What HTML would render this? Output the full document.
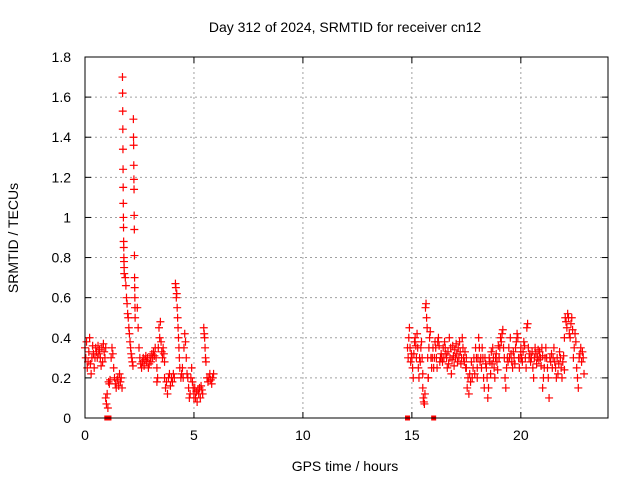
<!DOCTYPE html>
<html><head><meta charset="utf-8"><style>
html,body{margin:0;padding:0;background:#fff}
svg{display:block;font-family:"Liberation Sans",sans-serif}
</style></head><body>
<svg id="chart" width="640" height="480">
<text x="345" y="32" font-size="14" text-anchor="middle">Day 312 of 2024, SRMTID for receiver cn12</text>
<text x="345" y="471" font-size="14" text-anchor="middle">GPS time / hours</text>
<text transform="translate(18,238) rotate(-90)" font-size="14" text-anchor="middle">SRMTID / TECUs</text>
<g id="grid"></g>
<g id="ticks"></g>
<g id="marks"></g>
<rect x="85" y="57" width="523" height="361" fill="none" stroke="#000" stroke-width="1"/>
</svg>
<script>
const xTicks=[0,5,10,15,20];
const yTicks=[0,0.2,0.4,0.6,0.8,1,1.2,1.4,1.6,1.8];
const yTickLabels=["0","0.2","0.4","0.6","0.8","1","1.2","1.4","1.6","1.8"];
// each group: start hour, end hour, values sampled uniformly between
const groupStarts=[0.0,0.95,1.2,1.72,1.85,2.22,2.4,3.3,3.65,4.15,4.4,5.0,5.45,5.6,
14.8,15.5,15.75,17.5,18.0,19.0,20.0,21.0,22.0];
const groupEnds=[0.95,1.15,1.7,1.8,2.2,2.3,3.3,3.65,4.1,4.35,5.0,5.4,5.55,5.9,
15.5,15.75,17.5,18.0,19.0,20.0,21.0,22.0,22.9];
const groupValues=[
[0.35,0.3,0.38,0.25,0.28,0.33,0.4,0.27,0.22,0.3,0.36,0.32,0.25,0.3,0.35,0.33,0.3,0.36,0.32,0.34,0.3,0.26,0.35,0.28,0.37,0.33,0.3,0.35],
[0.1,0.07,0.12,0.05,0.18,0.17,0.19],
[0.3,0.35,0.32,0.25,0.2,0.17,0.15,0.19,0.2,0.16,0.22,0.18,0.2,0.15],
[1.7,1.62,1.53,1.44,1.34,1.24,1.15,1.07,1.0,0.95,0.88,0.85,0.8,0.78,0.75,0.72],
[0.7,0.66,0.6,0.57,0.52,0.5,0.45,0.42,0.38,0.35,0.32,0.3,0.28,0.26],
[1.49,1.4,1.36,1.26,1.19,1.14,1.01,0.94,0.81,0.7,0.65,0.6,0.55,0.5],
[0.55,0.45,0.35,0.3,0.27,0.25,0.28,0.3,0.26,0.29,0.31,0.28,0.3,0.25,0.27,0.3,0.28,0.32,0.3,0.33,0.31,0.35,0.3,0.25],
[0.18,0.2,0.35,0.45,0.4,0.48,0.38,0.33,0.3,0.35,0.32,0.28],
[0.2,0.15,0.18,0.12,0.2,0.22,0.16,0.2,0.18,0.22,0.2],
[0.67,0.65,0.6,0.62,0.55,0.5,0.45,0.4,0.35,0.3,0.25],
[0.2,0.22,0.25,0.2,0.35,0.42,0.38,0.3,0.22,0.2,0.15,0.1,0.12,0.2,0.25,0.18,0.15,0.1],
[0.12,0.15,0.1,0.13,0.08,0.14,0.12,0.15,0.1,0.16,0.14,0.12],
[0.45,0.42,0.4,0.35,0.3,0.28],
[0.2,0.18,0.2,0.22,0.19,0.17,0.2,0.22],
[0.35,0.3,0.4,0.45,0.35,0.28,0.32,0.3,0.25,0.2,0.32,0.38,0.4,0.36,0.3,0.42,0.35,0.25,0.2,0.3,0.28,0.35,0.38,0.3,0.22],
[0.15,0.1,0.08,0.07,0.12,0.55,0.57,0.5,0.45,0.3,0.2],
[0.2,0.35,0.4,0.43,0.3,0.25,0.3,0.35,0.25,0.3,0.38,0.35,0.3,0.25,0.38,0.4,0.36,0.28,0.3,0.32,0.3,0.28,0.35,0.3,0.38,0.35,0.32,0.3,0.25,0.33,0.27,0.4,0.3,0.35,0.22,0.29,0.36,0.31,0.26,0.34,0.3,0.37,0.32,0.28,0.35,0.3,0.38,0.33,0.27,0.3,0.4,0.35,0.3,0.28,0.33,0.25,0.3],
[0.25,0.15,0.2,0.12,0.22,0.18,0.28,0.2,0.25,0.3,0.22,0.35,0.3,0.2],
[0.25,0.3,0.4,0.35,0.28,0.3,0.25,0.35,0.3,0.2,0.15,0.3,0.27,0.25,0.2,0.1,0.15,0.3,0.28,0.22,0.33,0.27,0.35,0.3,0.25,0.2,0.3,0.32,0.28,0.24,0.36,0.3],
[0.3,0.35,0.4,0.38,0.42,0.44,0.35,0.3,0.2,0.15,0.25,0.3,0.28,0.35,0.3,0.4,0.32,0.28,0.25,0.33,0.3,0.27,0.35,0.38,0.42,0.4,0.3,0.25,0.3,0.33],
[0.35,0.3,0.28,0.33,0.38,0.36,0.3,0.25,0.45,0.47,0.35,0.3,0.32,0.28,0.3,0.33,0.25,0.2,0.3,0.35,0.32,0.27,0.3,0.34,0.29,0.33,0.3,0.26,0.35,0.31],
[0.15,0.2,0.25,0.3,0.35,0.3,0.25,0.2,0.1,0.3,0.28,0.32,0.25,0.3,0.35,0.28,0.25,0.2,0.3,0.22,0.27,0.33,0.3,0.25,0.2,0.28,0.31,0.24],
[0.4,0.5,0.48,0.45,0.52,0.5,0.42,0.4,0.47,0.5,0.44,0.3,0.35,0.42,0.38,0.25,0.2,0.15,0.3,0.32,0.35,0.28,0.33,0.3,0.22]
];
const zeroTimes=[1.0,1.1,14.8,16.0];

const NS="http://www.w3.org/2000/svg";
const X0=85,X1=608,XMAX=24,Y0=418,Y1=57,YMAX=1.8;
const xs=t=>X0+(X1-X0)*t/XMAX, ys=v=>Y0-(Y0-Y1)*v/YMAX;
function mk(tag,attrs,parent){const e=document.createElementNS(NS,tag);for(const k in attrs)e.setAttribute(k,attrs[k]);parent.appendChild(e);return e;}
const grid=document.getElementById('grid'),ticks=document.getElementById('ticks'),marks=document.getElementById('marks');
xTicks.forEach(t=>{const x=xs(t);
 if(t>0){const l=mk('line',{x1:x,x2:x,y1:Y1,y2:Y0,stroke:'#a0a0a0','stroke-dasharray':'2,3'},grid);}
 mk('line',{x1:x,x2:x,y1:Y0,y2:Y0-6,stroke:'#000'},ticks);mk('line',{x1:x,x2:x,y1:Y1,y2:Y1+6,stroke:'#000'},ticks);
 const tx=mk('text',{x:x,y:Y0+22,'font-size':14,'text-anchor':'middle'},ticks);tx.textContent=t;
 });
yTicks.forEach((v,i)=>{const y=ys(v);
 if(v>0&&v<YMAX){const l=mk('line',{x1:X0,x2:X1,y1:y,y2:y,stroke:'#a0a0a0','stroke-dasharray':'2,3'},grid);}
 mk('line',{x1:X0,x2:X0+6,y1:y,y2:y,stroke:'#000'},ticks);mk('line',{x1:X1,x2:X1-6,y1:y,y2:y,stroke:'#000'},ticks);
 const tx=mk('text',{x:X0-14,y:y+5,'font-size':14,'text-anchor':'end'},ticks);tx.textContent=yTickLabels[i];
 });
function plus(t,v){const x=xs(t),y=ys(v);
 const p=mk('path',{d:`M${x-4},${y}H${x+4}M${x},${y-4}V${y+4}`,stroke:'#ff0000','stroke-width':1.2,fill:'none'},marks);
 }
groupValues.forEach((vals,g)=>{const s=groupStarts[g],e=groupEnds[g];
 vals.forEach((v,i)=>plus(s+(e-s)*i/Math.max(1,vals.length-1),v));});
zeroTimes.forEach(t=>{const r=mk('rect',{x:xs(t)-2.5,y:Y0-2.5,width:5,height:5,fill:'#ff0000'},marks);
 });
</script>
</body></html>
